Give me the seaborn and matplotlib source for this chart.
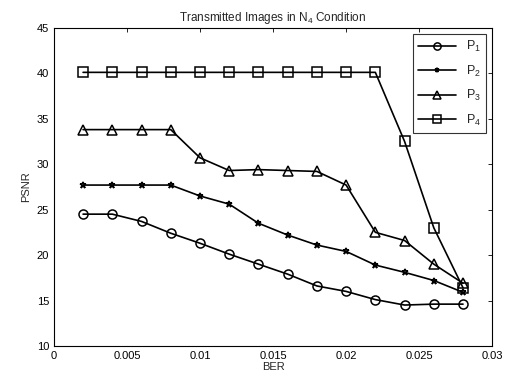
import matplotlib
matplotlib.use("Agg")
import matplotlib.pyplot as plt
import pandas as pd
import seaborn as sns

# datos
ber = [0.002, 0.004, 0.006, 0.008, 0.010, 0.012, 0.014,
       0.016, 0.018, 0.020, 0.022, 0.024, 0.026, 0.028]
p1 = [24.5, 24.5, 23.7, 22.4, 21.3, 20.1, 19.0, 17.9, 16.6, 16.0, 15.1, 14.5, 14.6, 14.6]
p2 = [27.7, 27.7, 27.7, 27.7, 26.5, 25.6, 23.5, 22.2, 21.1, 20.4, 18.9, 18.1, 17.2, 15.9]
p3 = [33.8, 33.8, 33.8, 33.8, 30.7, 29.3, 29.4, 29.3, 29.2, 27.7, 22.5, 21.6, 19.0, 16.9]
p4 = [40.1, 40.1, 40.1, 40.1, 40.1, 40.1, 40.1, 40.1, 40.1, 40.1, 40.1, 32.5, 23.0, 16.4]
nombres = ["P$_1$", "P$_2$", "P$_3$", "P$_4$"]
marcadores = ["o", "*", "^", "s"]

sns.set_style("white")
plt.rcParams["font.family"] = ["Liberation Sans", "DejaVu Sans"]
plt.rcParams["mathtext.fontset"] = "custom"
plt.rcParams["mathtext.rm"] = "Liberation Sans"
plt.rcParams["mathtext.it"] = "Liberation Sans"

fig = plt.figure(figsize=(5.08, 3.81), dpi=100)
ax = fig.add_axes([0.106, 0.092, 0.863, 0.835])

for serie, nombre, m in zip([p1, p2, p3, p4], nombres, marcadores):
    df = pd.DataFrame({"BER": ber, "PSNR": serie})
    sns.lineplot(data=df, x="BER", y="PSNR", ax=ax, color="black", linewidth=1.2,
                 marker=m, markersize=6.5 if m != "*" else 4.5, markerfacecolor="none",
                 markeredgecolor="black", markeredgewidth=1.1, label=nombre)

ax.set_xlim(0, 0.03)
ax.set_ylim(10, 45)
ax.set_xticks([0, 0.005, 0.01, 0.015, 0.02, 0.025, 0.03])
ax.set_xticklabels(["0", "0.005", "0.01", "0.015", "0.02", "0.025", "0.03"])
ax.set_yticks(range(10, 50, 5))
ax.tick_params(direction="in", length=3, width=0.6, labelsize=8, top=True, right=True,
               colors="black")
for s in ax.spines.values():
    s.set_color("black")
    s.set_linewidth(0.8)

ax.set_xlabel("BER", fontsize=8, labelpad=1)
ax.set_ylabel("PSNR", fontsize=8, labelpad=4)
ax.set_title("Transmitted Images in N$_4$ Condition", fontsize=8.5, pad=5)

leg = ax.legend(loc="upper right", fontsize=9, frameon=True, fancybox=False,
                borderaxespad=0.5, handlelength=3.0, labelspacing=0.75,
                markerscale=0.8)
leg.get_frame().set_edgecolor("black")
leg.get_frame().set_linewidth(0.8)

fig.savefig("out.png", dpi=100)
